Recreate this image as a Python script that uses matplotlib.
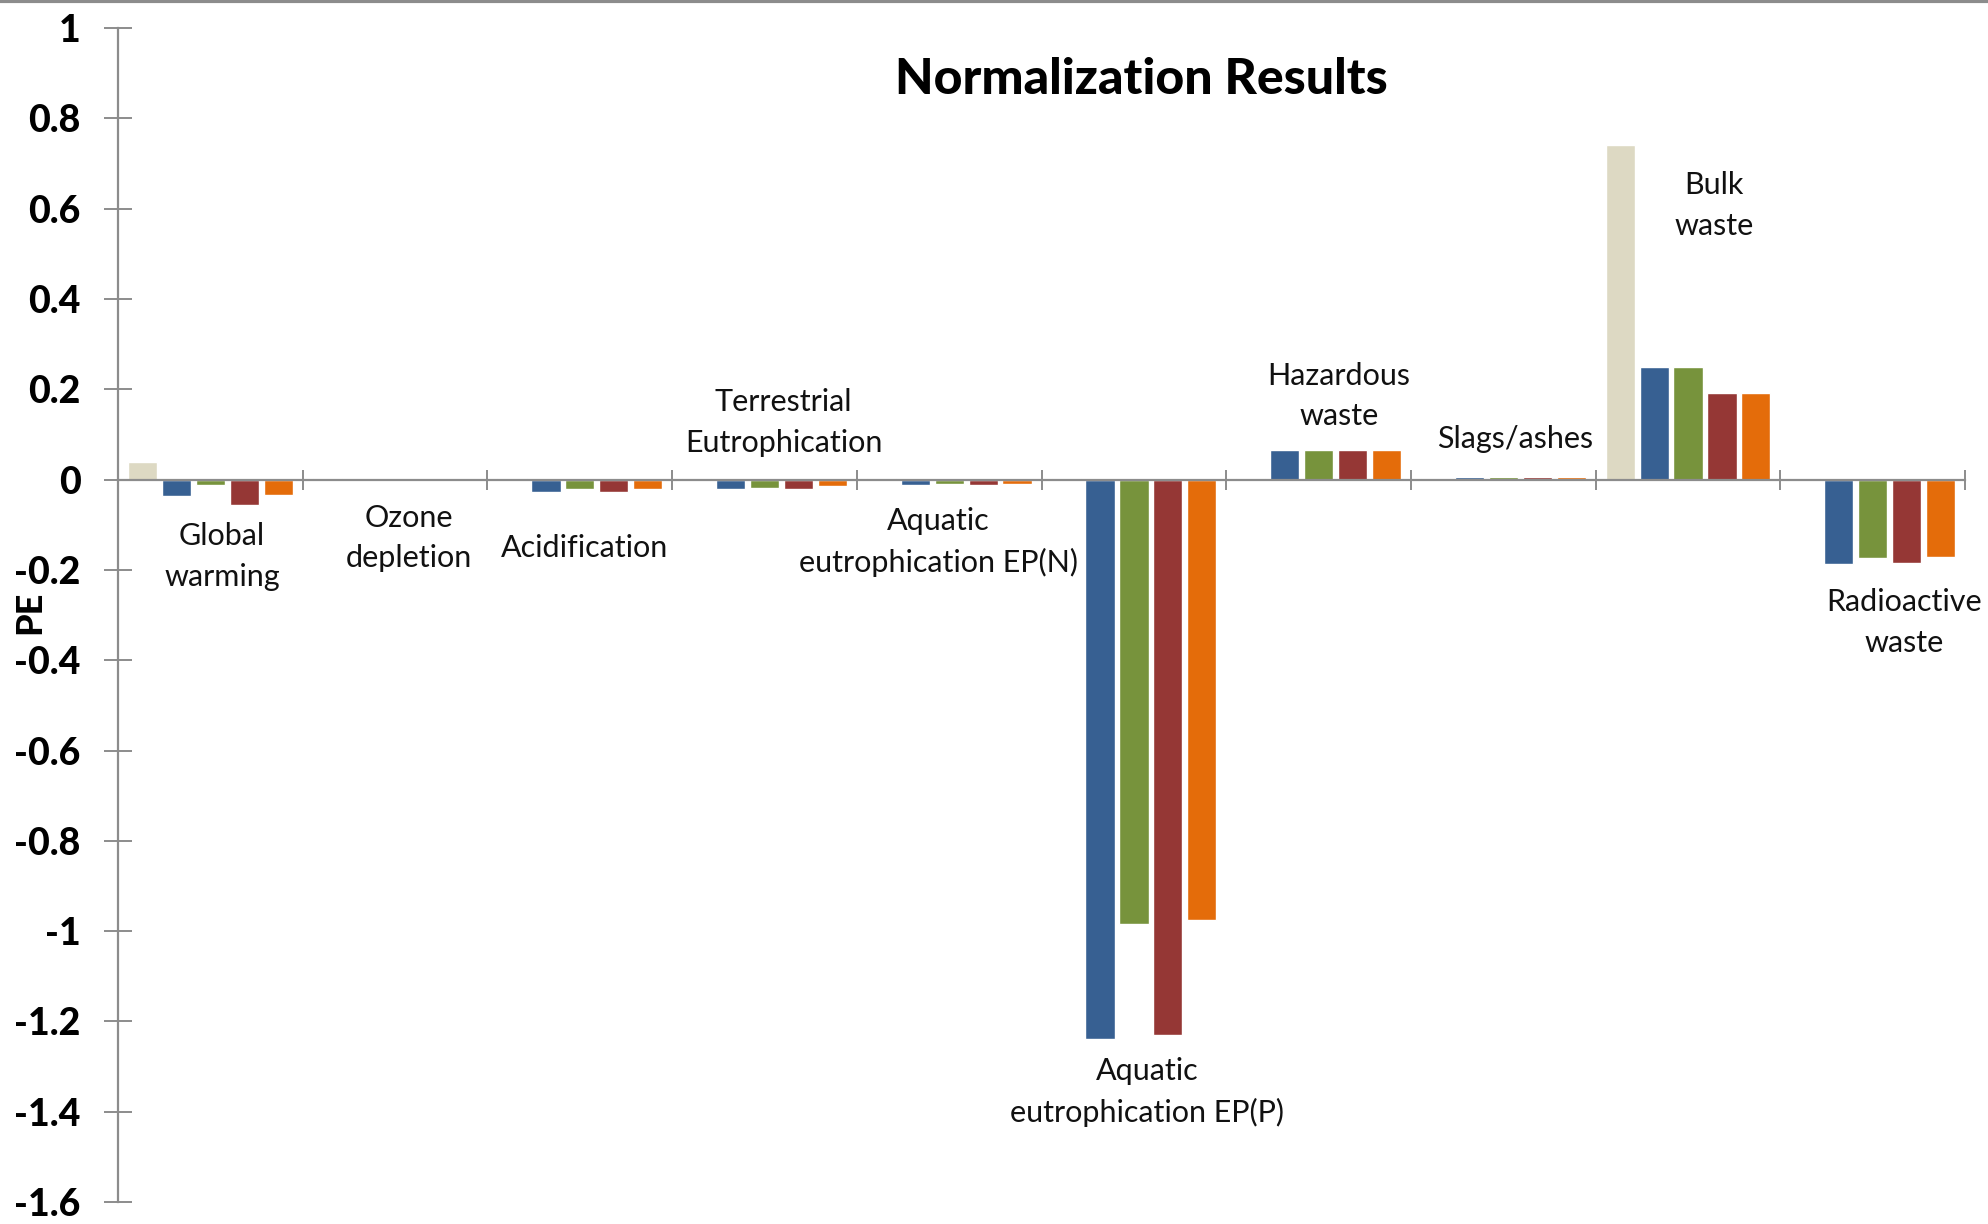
import matplotlib
matplotlib.use("Agg")
import matplotlib.pyplot as plt
from matplotlib.lines import Line2D
from matplotlib.ticker import FuncFormatter
import numpy as np

plt.rcParams['font.family'] = ['Lato', 'DejaVu Sans']

categories = ["Global\nwarming", "Ozone\ndepletion", "Acidification",
              "Terrestrial\nEutrophication", "Aquatic\neutrophication EP(N)",
              "Aquatic\neutrophication EP(P)", "Hazardous\nwaste", "Slags/ashes",
              "Bulk\nwaste", "Radioactive\nwaste"]

series_beige  = [0.040, 0.004, 0.004, 0.004, 0.004, 0.004, 0.004, 0.004, 0.741, 0.003]
series_blue   = [-0.036, 0.0, -0.027, -0.021, -0.013, -1.240, 0.065, 0.005, 0.249, -0.187]
series_green  = [-0.011, 0.0, -0.021, -0.018, -0.010, -0.984, 0.065, 0.005, 0.249, -0.174]
series_red    = [-0.056, 0.0, -0.027, -0.021, -0.013, -1.231, 0.065, 0.005, 0.192, -0.184]
series_orange = [-0.033, 0.0, -0.021, -0.014, -0.010, -0.975, 0.065, 0.005, 0.192, -0.171]

# label anchor points (category position, value) for the category captions
label_x = [0.563, 1.572, 2.526, 3.603, 4.441, 5.573, 6.609, 7.563, 8.641, 9.671]
label_y = [-0.171, -0.129, -0.152, 0.126, -0.138, -1.357, 0.185, 0.090, 0.607, -0.317]

yticks = [1, 0.8, 0.6, 0.4, 0.2, 0, -0.2, -0.4, -0.6, -0.8, -1, -1.2, -1.4, -1.6]

colors = ["#DDD9C3", "#376092", "#77933C", "#953735", "#E46C0A"]
all_series = [series_beige, series_blue, series_green, series_red, series_orange]

fig = plt.figure(figsize=(19.88, 12.24), dpi=100)
ax = fig.add_axes([0.0594, 0.018, 0.9291, 0.959])

x = np.arange(len(categories)) + 0.5
slot = 0.1836
for j, (vals, c) in enumerate(zip(all_series, colors)):
    ax.bar(x + (j - 2) * slot, vals, width=0.158, color=c,
           edgecolor="white", linewidth=1.0, zorder=2)

ax.set_xlim(0, len(categories))
ax.set_ylim(-1.6, 1.0)

axis_gray = "#8C8C8C"
for s in ["top", "right"]:
    ax.spines[s].set_visible(False)
ax.spines["bottom"].set_position(("data", 0))
ax.spines["bottom"].set_color(axis_gray)
ax.spines["bottom"].set_linewidth(1.6)
ax.spines["bottom"].set_zorder(3)
ax.spines["left"].set_color(axis_gray)
ax.spines["left"].set_linewidth(1.6)

ax.set_xticks(np.arange(len(categories) + 1))
ax.set_xticklabels([])
ax.tick_params(axis="x", direction="inout", length=15, width=1.4, color=axis_gray)

ax.set_yticks(yticks)
ax.yaxis.set_major_formatter(FuncFormatter(lambda v, p: "%g" % round(v, 2)))
ax.tick_params(axis="y", direction="inout", length=20, width=1.4, color=axis_gray,
               labelsize=27, pad=17)
for t in ax.get_yticklabels():
    t.set_fontweight("black")

ax.set_ylabel("PE", fontsize=26, fontweight="black")
ax.yaxis.set_label_coords(-0.039, 0.502)

for name, lx, ly in zip(categories, label_x, label_y):
    ax.text(lx, ly, name, ha="center", va="center", fontsize=22,
            linespacing=1.55, color="#111111")

fig.text(0.574, 0.935, "Normalization Results", ha="center", va="center",
         fontsize=36, fontweight="black")

fig.add_artist(Line2D([0, 1], [0.999, 0.999], transform=fig.transFigure,
                      color="#8C8C8C", linewidth=3))

fig.savefig("out.png", dpi=100)
